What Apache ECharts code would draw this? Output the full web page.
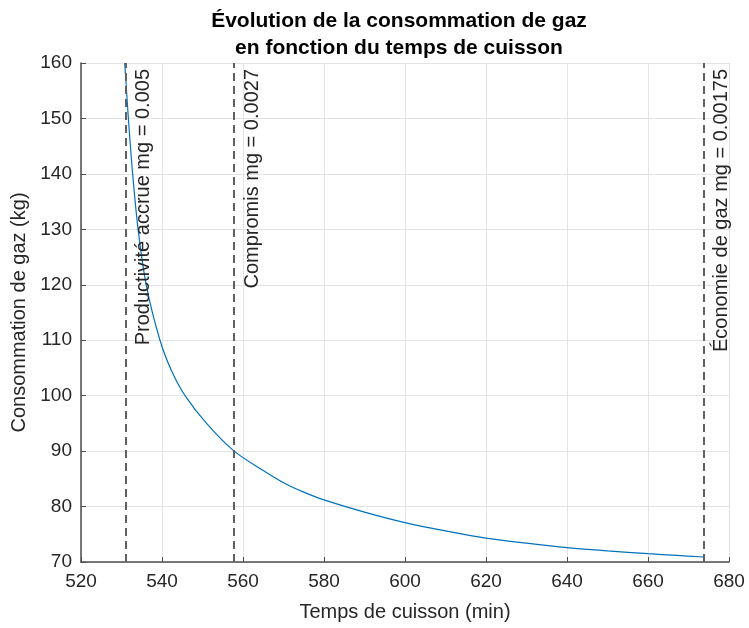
<!DOCTYPE html>
<html>
<head>
<meta charset="utf-8">
<script src="https://cdn.jsdelivr.net/npm/echarts@6/dist/echarts.min.js"></script>
<style>
  html, body { margin: 0; padding: 0; background: #fff; }
  #chart { width: 749px; height: 628px; }
</style>
</head>
<body>
<div id="chart"></div>
<script>
// values
const timeMin = [530.8, 531.7, 532.75, 534.1, 536.1, 539.5, 542.3, 545.7, 551, 557.8, 565, 570, 575, 580, 590, 600, 610, 620, 630, 640, 650, 660, 667, 673.7];
const gasKg   = [160, 150, 140, 130, 120, 110, 104.6, 100, 95.0, 90, 86.5, 84.3, 82.6, 81.2, 79.0, 77.1, 75.6, 74.3, 73.4, 72.6, 72.0, 71.5, 71.2, 70.9];

const refX = [531, 557.8, 673.7];
const refLabels = ['Productivité accrue mg = 0.005', 'Compromis mg = 0.0027', 'Économie de gaz mg = 0.00175'];

const xTicks = { min: 520, max: 680, interval: 20 };
const yTicks = { min: 70, max: 160, interval: 10 };

const font = '"Liberation Sans", Arial, Helvetica, sans-serif';
const txt = '#262626';
const gridColor = '#e3e3e3';

const chart = echarts.init(document.getElementById('chart'));

chart.setOption({
  animation: false,
  textStyle: { fontFamily: font },
  title: {
    text: 'Évolution de la consommation de gaz\nen fonction du temps de cuisson',
    left: 394,
    top: 3,
    textAlign: 'center',
    textStyle: { fontFamily: font, fontSize: 21, fontWeight: 'bold', color: '#000', lineHeight: 27 }
  },
  grid: { left: 81, right: 20, top: 63, bottom: 66 },
  xAxis: {
    type: 'value',
    min: xTicks.min, max: xTicks.max, interval: xTicks.interval,
    name: 'Temps de cuisson (min)',
    nameLocation: 'middle',
    nameGap: 40,
    nameTextStyle: { fontSize: 20, color: txt, fontFamily: font },
    axisLine: { lineStyle: { color: '#4d4d4d', width: 1.5 } },
    axisTick: { inside: true, length: 5, lineStyle: { color: '#4d4d4d' } },
    axisLabel: { fontSize: 19, color: txt, margin: 10, fontFamily: font },
    splitLine: { show: true, lineStyle: { color: gridColor, width: 1 } }
  },
  yAxis: {
    type: 'value',
    min: yTicks.min, max: yTicks.max, interval: yTicks.interval,
    name: 'Consommation de gaz (kg)',
    nameLocation: 'middle',
    nameGap: 41,
    nameTextStyle: { fontSize: 20, color: txt, fontFamily: font },
    axisLine: { show: true, lineStyle: { color: '#4d4d4d', width: 1.5 } },
    axisTick: { show: true, inside: true, length: 5, lineStyle: { color: '#4d4d4d' } },
    axisLabel: { fontSize: 19, color: txt, margin: 9, fontFamily: font },
    splitLine: { show: true, lineStyle: { color: gridColor, width: 1 } }
  },
  series: [{
    type: 'line',
    data: timeMin.map((t, i) => [t, gasKg[i]]),
    showSymbol: false,
    smooth: 0.3,
    lineStyle: { color: '#0072BD', width: 1.2 },
    clip: true,
    markLine: {
      silent: true,
      symbol: 'none',
      lineStyle: { color: '#606060', type: [8, 5], width: 2 },
      label: {
        show: true,
        position: 'insideEndBottom',
        distance: [6, 8],
        fontSize: 20,
        color: txt,
        fontFamily: font,
        formatter: p => refLabels[p.dataIndex]
      },
      data: refX.map(x => ({ xAxis: x }))
    }
  }]
});
</script>
</body>
</html>
